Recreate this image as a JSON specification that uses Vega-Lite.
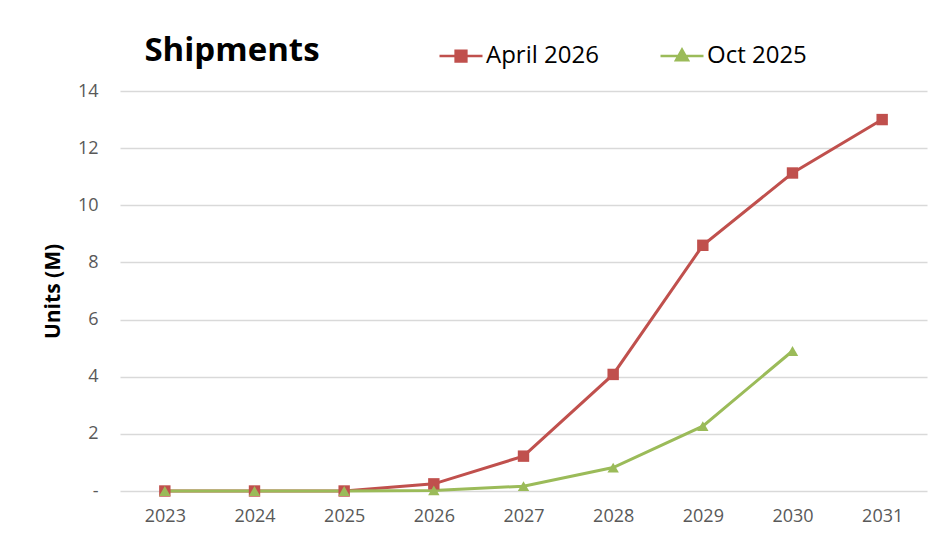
{
  "$schema": "https://vega.github.io/schema/vega-lite/v6.json",
  "width": 807,
  "height": 400,
  "autosize": "none",
  "padding": {"left": 120, "top": 91, "right": 13, "bottom": 49},
  "background": "white",
  "title": {"text": "Shipments", "anchor": "start", "font": "Open Sans", "fontSize": 33, "fontWeight": "bold", "color": "#000000", "dx": 102, "offset": 30, "dy": 65},
  "config": {"view": {"stroke": null}, "font": "Open Sans"},
  "data": {"values": [
    {"year": "2023", "series": "April 2026", "value": 0},
    {"year": "2024", "series": "April 2026", "value": 0},
    {"year": "2025", "series": "April 2026", "value": 0},
    {"year": "2026", "series": "April 2026", "value": 0.25},
    {"year": "2027", "series": "April 2026", "value": 1.22},
    {"year": "2028", "series": "April 2026", "value": 4.08},
    {"year": "2029", "series": "April 2026", "value": 8.6},
    {"year": "2030", "series": "April 2026", "value": 11.13},
    {"year": "2031", "series": "April 2026", "value": 13.0},
    {"year": "2023", "series": "Oct 2025", "value": 0},
    {"year": "2024", "series": "Oct 2025", "value": 0},
    {"year": "2025", "series": "Oct 2025", "value": 0},
    {"year": "2026", "series": "Oct 2025", "value": 0.02},
    {"year": "2027", "series": "Oct 2025", "value": 0.17},
    {"year": "2028", "series": "Oct 2025", "value": 0.82},
    {"year": "2029", "series": "Oct 2025", "value": 2.27},
    {"year": "2030", "series": "Oct 2025", "value": 4.9}
  ]},
  "encoding": {
    "x": {"field": "year", "type": "ordinal", "title": null,
      "scale": {"type": "point", "padding": 0.5},
      "axis": {"labelAngle": 0, "domain": false, "ticks": false, "grid": false, "labelFont": "Open Sans", "labelFontSize": 18, "labelColor": "#595959", "labelPadding": 16}},
    "y": {"field": "value", "type": "quantitative", "title": "Units (M)",
      "scale": {"domain": [0, 14], "nice": false},
      "axis": {"values": [0, 2, 4, 6, 8, 10, 12, 14], "labelExpr": "datum.value === 0 ? '-' : datum.label", "domain": false, "ticks": false, "grid": true, "gridColor": "#d9d9d9", "gridWidth": 1.5, "labelFont": "Open Sans", "labelFontSize": 18, "labelColor": "#595959", "labelPadding": 22, "titleFont": "Open Sans", "titleFontSize": 21, "titleFontWeight": "bold", "titleColor": "#000000", "titlePadding": 14}},
    "color": {"field": "series", "type": "nominal", "sort": ["April 2026", "Oct 2025"],
      "scale": {"domain": ["April 2026", "Oct 2025"], "range": ["#C0504D", "#9BBB59"]},
      "legend": {"title": null, "orient": "none", "direction": "horizontal", "legendX": 318, "legendY": -58,
        "labelFont": "Open Sans", "labelFontSize": 24, "labelColor": "#000000", "labelOffset": 2, "columnPadding": 56, "symbolSize": 1849,
        "encode": {"symbols": {"update": {
          "shape": {"signal": "datum.value === 'April 2026' ? 'M-1,0H1M-0.25,-0.25H0.25V0.25H-0.25Z' : 'M-1,0H1M0,-0.3L0.28,0.2L-0.28,0.2Z'"},
          "fill": {"signal": "datum.value === 'April 2026' ? '#C0504D' : '#9BBB59'"},
          "stroke": {"signal": "datum.value === 'April 2026' ? '#C0504D' : '#9BBB59'"},
          "strokeWidth": {"value": 2.5},
          "opacity": {"value": 1},
          "fillOpacity": {"value": 1},
          "strokeOpacity": {"value": 1}
        }}}}}
  },
  "layer": [
    {"mark": {"type": "line", "strokeWidth": 3}},
    {"transform": [{"filter": "datum.series === 'April 2026'"}],
      "mark": {"type": "point", "filled": true, "opacity": 1, "shape": "square", "size": 130}},
    {"transform": [{"filter": "datum.series === 'Oct 2025'"}],
      "mark": {"type": "point", "filled": true, "opacity": 1, "shape": "triangle-up", "size": 130}}
  ]
}
